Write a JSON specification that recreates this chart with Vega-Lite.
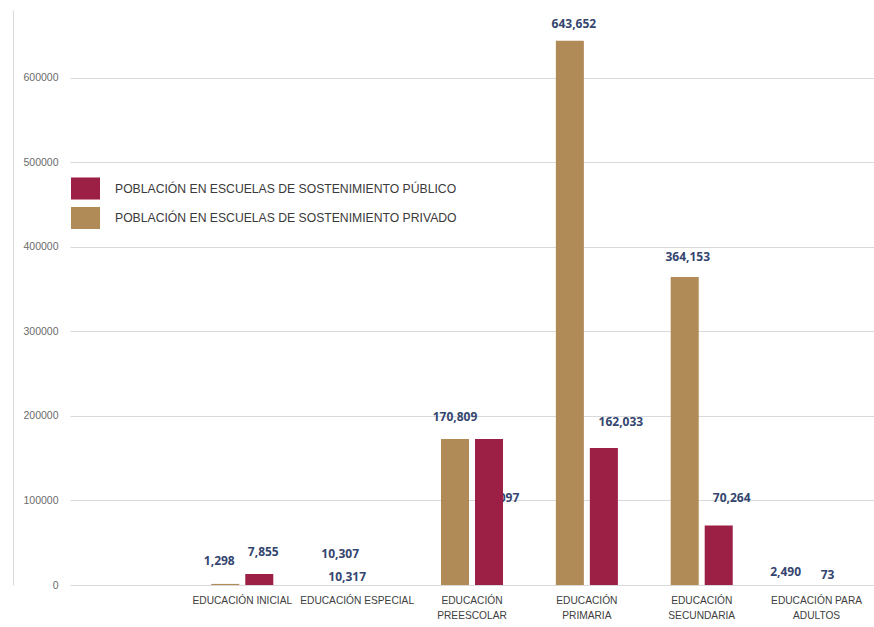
{
  "$schema": "https://vega.github.io/schema/vega-lite/v6.json",
  "width": 804,
  "height": 575,
  "autosize": {"type": "none"},
  "padding": {"left": 70, "top": 10, "right": 0, "bottom": 42},
  "background": "white",
  "config": {"view": {"stroke": null}, "font": "Liberation Sans"},
  "data": {
    "values": [
      {"cat": "EDUCACIÓN INICIAL", "serie": "POBLACIÓN EN ESCUELAS DE SOSTENIMIENTO  PRIVADO", "value": 1298, "label": "1,298"},
      {"cat": "EDUCACIÓN INICIAL", "serie": "POBLACIÓN EN ESCUELAS DE SOSTENIMIENTO PÚBLICO", "value": 13000, "label": "7,855"},
      {"cat": "EDUCACIÓN ESPECIAL", "serie": "POBLACIÓN EN ESCUELAS DE SOSTENIMIENTO  PRIVADO", "value": 0, "label": "10,307"},
      {"cat": "EDUCACIÓN ESPECIAL", "serie": "POBLACIÓN EN ESCUELAS DE SOSTENIMIENTO PÚBLICO", "value": 0, "label": "10,317"},
      {"cat": "EDUCACIÓN PREESCOLAR", "serie": "POBLACIÓN EN ESCUELAS DE SOSTENIMIENTO  PRIVADO", "value": 172600, "label": "170,809"},
      {"cat": "EDUCACIÓN PREESCOLAR", "serie": "POBLACIÓN EN ESCUELAS DE SOSTENIMIENTO PÚBLICO", "value": 172600, "label": "172,097"},
      {"cat": "EDUCACIÓN PRIMARIA", "serie": "POBLACIÓN EN ESCUELAS DE SOSTENIMIENTO  PRIVADO", "value": 643652, "label": "643,652"},
      {"cat": "EDUCACIÓN PRIMARIA", "serie": "POBLACIÓN EN ESCUELAS DE SOSTENIMIENTO PÚBLICO", "value": 162033, "label": "162,033"},
      {"cat": "EDUCACIÓN SECUNDARIA", "serie": "POBLACIÓN EN ESCUELAS DE SOSTENIMIENTO  PRIVADO", "value": 364153, "label": "364,153"},
      {"cat": "EDUCACIÓN SECUNDARIA", "serie": "POBLACIÓN EN ESCUELAS DE SOSTENIMIENTO PÚBLICO", "value": 70264, "label": "70,264"},
      {"cat": "EDUCACIÓN PARA ADULTOS", "serie": "POBLACIÓN EN ESCUELAS DE SOSTENIMIENTO  PRIVADO", "value": 0, "label": "2,490"},
      {"cat": "EDUCACIÓN PARA ADULTOS", "serie": "POBLACIÓN EN ESCUELAS DE SOSTENIMIENTO PÚBLICO", "value": 0, "label": "73"}
    ]
  },
  "encoding": {
    "x": {
      "field": "cat",
      "type": "nominal",
      "title": null,
      "scale": {
        "domain": [" ", "EDUCACIÓN INICIAL", "EDUCACIÓN ESPECIAL", "EDUCACIÓN PREESCOLAR", "EDUCACIÓN PRIMARIA", "EDUCACIÓN SECUNDARIA", "EDUCACIÓN PARA ADULTOS"],
        "paddingInner": 0.46,
        "paddingOuter": 0.23
      },
      "axis": {
        "labelAngle": 0,
        "labelFontSize": 10.2,
        "labelColor": "#404040",
        "labelPadding": 10,
        "labelBaseline": "top",
        "labelLineHeight": 15,
        "domain": false,
        "ticks": false,
        "grid": false,
        "labelExpr": "datum.label == 'EDUCACIÓN PARA ADULTOS' ? ['EDUCACIÓN PARA','ADULTOS'] : ((datum.label == 'EDUCACIÓN INICIAL' || datum.label == 'EDUCACIÓN ESPECIAL' || datum.label == ' ') ? datum.label : split(datum.label, ' '))"
      }
    },
    "xOffset": {
      "field": "serie",
      "type": "nominal",
      "scale": {
        "domain": ["POBLACIÓN EN ESCUELAS DE SOSTENIMIENTO  PRIVADO", "POBLACIÓN EN ESCUELAS DE SOSTENIMIENTO PÚBLICO"],
        "paddingInner": 0.176,
        "paddingOuter": 0
      }
    },
    "y": {
      "field": "value",
      "type": "quantitative",
      "scale": {"domain": [0, 680000], "nice": false},
      "axis": {
        "title": null,
        "offset": 57,
        "domain": true,
        "domainColor": "#d9d9d9",
        "ticks": false,
        "labelPadding": -45,
        "labelAlign": "right",
        "labelFontSize": 10.5,
        "labelColor": "#6b6b6b",
        "grid": true,
        "gridColor": "#d9d9d9",
        "values": [0, 100000, 200000, 300000, 400000, 500000, 600000],
        "format": "d"
      }
    }
  },
  "layer": [
    {
      "transform": [{"filter": "datum.label == '172,097'"}],
      "mark": {"type": "text", "font": "Open Sans", "fontWeight": "bold", "fontSize": 12, "color": "#34466f", "baseline": "middle", "dx": 8, "dy": 59},
      "encoding": {"text": {"field": "label"}}
    },
    {
      "mark": {"type": "bar"},
      "encoding": {
        "color": {
          "field": "serie",
          "type": "nominal",
          "scale": {
            "domain": ["POBLACIÓN EN ESCUELAS DE SOSTENIMIENTO PÚBLICO", "POBLACIÓN EN ESCUELAS DE SOSTENIMIENTO  PRIVADO"],
            "range": ["#9c1f46", "#b08a57"]
          },
          "legend": {
            "orient": "none",
            "legendX": 1,
            "legendY": 164,
            "title": null,
            "padding": 0,
            "symbolType": "M-1,-0.76H1V0.76H-1Z",
            "symbolSize": 841,
            "symbolStrokeWidth": 0,
            "labelFontSize": 12.2,
            "labelColor": "#3a3a3a",
            "labelOffset": 15,
            "rowPadding": 3.5,
            "labelLimit": 500
          }
        }
      }
    },
    {
      "transform": [{"filter": "datum.label == '1,298'"}],
      "mark": {"type": "text", "font": "Open Sans", "fontWeight": "bold", "fontSize": 12, "color": "#34466f", "baseline": "middle", "dx": -6, "dy": -23},
      "encoding": {"text": {"field": "label"}}
    },
    {
      "transform": [{"filter": "datum.label == '7,855'"}],
      "mark": {"type": "text", "font": "Open Sans", "fontWeight": "bold", "fontSize": 12, "color": "#34466f", "baseline": "middle", "dx": 4, "dy": -22},
      "encoding": {"text": {"field": "label"}}
    },
    {
      "transform": [{"filter": "datum.label == '10,307'"}],
      "mark": {"type": "text", "font": "Open Sans", "fontWeight": "bold", "fontSize": 12, "color": "#34466f", "baseline": "middle", "dx": 0, "dy": -31},
      "encoding": {"text": {"field": "label"}}
    },
    {
      "transform": [{"filter": "datum.label == '10,317'"}],
      "mark": {"type": "text", "font": "Open Sans", "fontWeight": "bold", "fontSize": 12, "color": "#34466f", "baseline": "middle", "dx": -27, "dy": -8},
      "encoding": {"text": {"field": "label"}}
    },
    {
      "transform": [{"filter": "datum.label == '170,809'"}],
      "mark": {"type": "text", "font": "Open Sans", "fontWeight": "bold", "fontSize": 12, "color": "#34466f", "baseline": "middle", "dx": 0, "dy": -22},
      "encoding": {"text": {"field": "label"}}
    },
    {
      "transform": [{"filter": "datum.label == '643,652'"}],
      "mark": {"type": "text", "font": "Open Sans", "fontWeight": "bold", "fontSize": 12, "color": "#34466f", "baseline": "middle", "dx": 4, "dy": -17},
      "encoding": {"text": {"field": "label"}}
    },
    {
      "transform": [{"filter": "datum.label == '162,033'"}],
      "mark": {"type": "text", "font": "Open Sans", "fontWeight": "bold", "fontSize": 12, "color": "#34466f", "baseline": "middle", "dx": 17, "dy": -26},
      "encoding": {"text": {"field": "label"}}
    },
    {
      "transform": [{"filter": "datum.label == '364,153'"}],
      "mark": {"type": "text", "font": "Open Sans", "fontWeight": "bold", "fontSize": 12, "color": "#34466f", "baseline": "middle", "dx": 3, "dy": -20},
      "encoding": {"text": {"field": "label"}}
    },
    {
      "transform": [{"filter": "datum.label == '70,264'"}],
      "mark": {"type": "text", "font": "Open Sans", "fontWeight": "bold", "fontSize": 12, "color": "#34466f", "baseline": "middle", "dx": 13, "dy": -28},
      "encoding": {"text": {"field": "label"}}
    },
    {
      "transform": [{"filter": "datum.label == '2,490'"}],
      "mark": {"type": "text", "font": "Open Sans", "fontWeight": "bold", "fontSize": 12, "color": "#34466f", "baseline": "middle", "dx": -14, "dy": -13},
      "encoding": {"text": {"field": "label"}}
    },
    {
      "transform": [{"filter": "datum.label == '73'"}],
      "mark": {"type": "text", "font": "Open Sans", "fontWeight": "bold", "fontSize": 12, "color": "#34466f", "baseline": "middle", "dx": -6, "dy": -10},
      "encoding": {"text": {"field": "label"}}
    }
  ]
}
